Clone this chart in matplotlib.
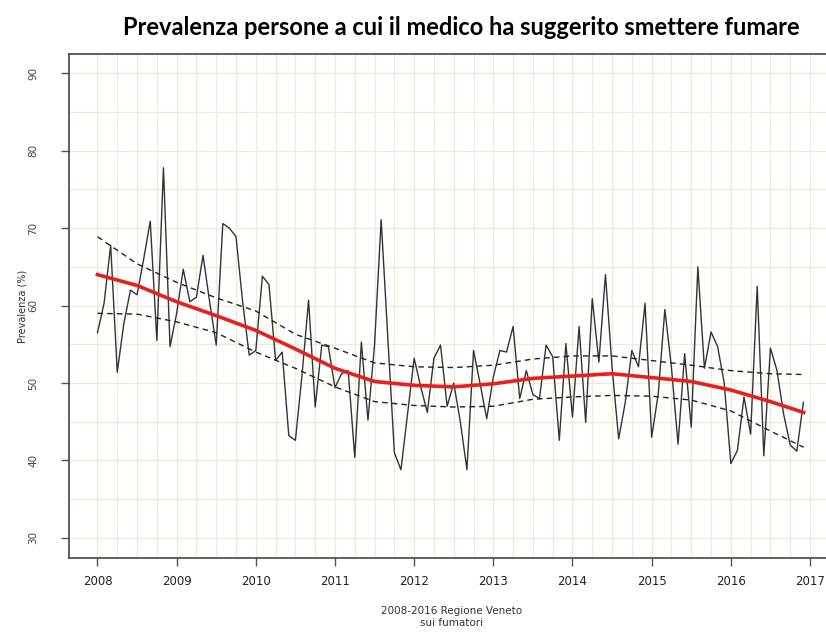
import matplotlib
matplotlib.use("Agg")
import matplotlib.pyplot as plt
import numpy as np

# monthly prevalence, Jan 2008 .. Dec 2016
prev_2008 = [56.5, 60.3, 67.8, 51.4, 57.7, 62.0, 61.4, 66.0, 70.9, 55.5, 77.8, 54.7]
prev_2009 = [59.0, 64.7, 60.5, 61.1, 66.5, 60.5, 54.9, 70.6, 70.0, 68.9, 60.5, 53.6]
prev_2010 = [54.2, 63.8, 62.7, 52.9, 54.0, 43.2, 42.6, 51.0, 60.7, 46.9, 54.9, 54.7]
prev_2011 = [49.4, 51.2, 51.6, 40.4, 55.3, 45.2, 55.0, 71.1, 56.0, 41.0, 38.8, 46.0]
prev_2012 = [53.2, 49.5, 46.2, 53.2, 54.9, 47.0, 50.0, 45.0, 38.8, 54.2, 49.9, 45.4]
prev_2013 = [50.8, 54.2, 54.0, 57.3, 48.0, 51.6, 48.5, 48.0, 54.9, 53.4, 42.6, 55.1]
prev_2014 = [45.6, 57.3, 44.9, 60.9, 52.7, 64.0, 52.0, 42.8, 47.5, 54.2, 52.1, 60.3]
prev_2015 = [43.0, 48.6, 59.5, 52.0, 42.1, 53.8, 44.3, 65.0, 51.9, 56.6, 54.7, 50.0]
prev_2016 = [39.6, 41.3, 48.2, 43.4, 62.5, 40.6, 54.5, 51.6, 46.0, 42.0, 41.2, 47.5]

# smoothed trend and confidence band, read at half-year points
trend_x = [2008.0, 2008.5, 2009.0, 2009.5, 2010.0, 2010.5, 2011.0, 2011.5, 2012.0, 2012.5,
           2013.0, 2013.5, 2014.0, 2014.5, 2015.0, 2015.5, 2016.0, 2016.5, 2016.92]
trend = [64.0, 62.6, 60.5, 58.7, 56.8, 54.4, 51.9, 50.2, 49.7, 49.5,
         49.9, 50.6, 50.9, 51.2, 50.7, 50.2, 49.1, 47.6, 46.2]
upper = [68.9, 65.4, 63.0, 61.0, 59.3, 56.3, 54.5, 52.6, 52.1, 52.0,
         52.3, 53.1, 53.5, 53.5, 52.9, 52.3, 51.6, 51.2, 51.1]
lower = [59.0, 58.9, 57.9, 56.5, 54.0, 51.9, 49.5, 47.6, 47.1, 46.9,
         47.0, 47.9, 48.2, 48.4, 48.3, 47.8, 46.4, 43.8, 41.7]

years = list(range(2008, 2018))
yticks = [30, 40, 50, 60, 70, 80, 90]

values = np.concatenate([prev_2008, prev_2009, prev_2010, prev_2011, prev_2012,
                         prev_2013, prev_2014, prev_2015, prev_2016])
months = 2008 + np.arange(len(values)) / 12.0

fig = plt.figure(figsize=(8.26, 6.33), dpi=100)
ax = fig.add_axes([0.0835, 0.1185, 0.923, 0.7962])

# pale grid like the original
for gx in np.arange(2008, 2017.3, 0.25):
    ax.axvline(gx, color="#eaecd4", lw=0.9, zorder=0)
for gy in np.arange(30, 91, 5):
    ax.axhline(gy, color="#eaecd4", lw=0.9, zorder=0)

ax.plot(months, values, color="#333333", lw=1.0, zorder=2)
ax.plot(trend_x, upper, color="#222222", lw=1.0, ls=(0, (4, 3)), zorder=3)
ax.plot(trend_x, lower, color="#222222", lw=1.0, ls=(0, (4, 3)), zorder=3)
ax.plot(trend_x, trend, color="#e8201c", lw=2.6, zorder=4)

ax.set_xlim(2007.64, 2017.27)
ax.set_ylim(27.4, 92.5)
ax.set_xticks(years)
ax.set_xticklabels([str(y) for y in years], fontsize=8.5, color="#222222")
ax.set_yticks(yticks)
ax.set_yticklabels([str(v) for v in yticks], fontsize=7.5, color="#444444",
                   rotation=90, va="center")
ax.tick_params(axis="both", direction="out", length=6, width=1, color="#555555")
ax.tick_params(axis="x", pad=6)
ax.tick_params(axis="y", pad=16)
for s in ax.spines.values():
    s.set_color("#444444")
    s.set_linewidth(1.2)

ax.set_ylabel("Prevalenza (%)", fontsize=7, color="#333333", labelpad=1)
fig.text(0.547, 0.025, "2008-2016 Regione Veneto\nsui fumatori", ha="center",
         va="center", fontsize=7.5, color="#333333", linespacing=1.25)

fig.text(0.558, 0.957, "Prevalenza persone a cui il medico ha suggerito smettere fumare",
         ha="center", va="center", fontsize=17, fontweight="bold", family="Lato")

fig.savefig("out.png", dpi=100)
